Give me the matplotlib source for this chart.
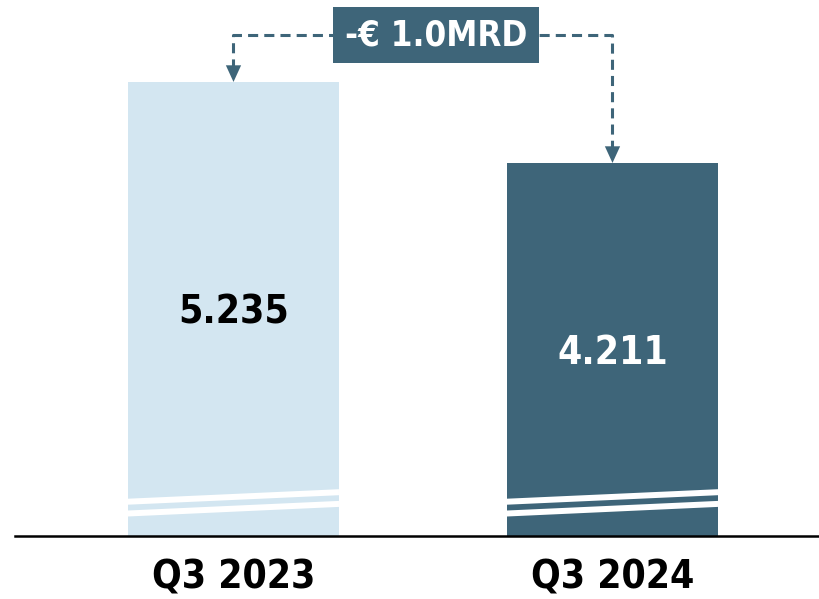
import numpy as np
import matplotlib.pyplot as plt

# data
categories = ["Q3 2023", "Q3 2024"]
values = [5.235, 4.211]
value_labels = ["5.235", "4.211"]
delta_label = "-€ 1.0MRD"

col_light = "#d3e6f1"
col_dark = "#3e6579"
bar_cols = [col_light, col_dark]
txt_cols = ["black", "white"]

plt.rcParams["font.family"] = ["DejaVu Sans"]
plt.rcParams["font.stretch"] = "condensed"

W, H = 820, 599
fig = plt.figure(figsize=(W / 100, H / 100), dpi=100)
ax = fig.add_axes([15 / W, 63 / H, 805 / W, 536 / H])

# broken axis: bars do not start at zero
base = -0.505
px = 79.1  # pixels per unit
ax.set_ylim(base, base + 536 / px)
ax.set_xlim(-0.5765, -0.5765 + 805 / 379)
x = np.arange(len(values))
bw = 211 / 379

ax.bar(x, np.array(values) - base, bottom=base, width=bw, color=bar_cols, zorder=2)

# white break stripes
th = 6.0 / px
for xi in x:
    xl, xr = xi - bw / 2, xi + bw / 2
    for yl, yr in [(34.3, 43.8), (22.5, 32.1)]:
        yl, yr = base + yl / px, base + yr / px
        ax.fill([xl, xr, xr, xl], [yl - th / 2, yr - th / 2, yr + th / 2, yl + th / 2],
                color="white", lw=0, zorder=3)

for xi, v, lab, tc in zip(x, values, value_labels, txt_cols):
    ax.text(xi, (v + base) / 2 - 0.04, lab, ha="center", va="center", color=tc,
            fontsize=28, fontweight="bold", zorder=4)

# connector with arrows
yc = base + 501 / px
ax.plot([x[0], x[0], x[1], x[1]], [values[0] + 0.17, yc, yc, values[1] + 0.17],
        ls=(0, (3.3, 2.0)), lw=2.2, color=col_dark, zorder=1, clip_on=False)
for xi, v in zip(x, values):
    ax.annotate("", xy=(xi, v), xytext=(xi, v + 0.25),
                arrowprops=dict(arrowstyle="-|>,head_length=1.2,head_width=0.55",
                                color=col_dark, lw=0, shrinkA=0, shrinkB=0))
ax.text(0.534, yc, delta_label, ha="center", va="center", color="white",
        fontsize=25, fontweight="bold", zorder=5,
        bbox=dict(boxstyle="square,pad=0.33", fc=col_dark, ec="none"))

for s in ["top", "right", "left"]:
    ax.spines[s].set_visible(False)
ax.spines["bottom"].set_linewidth(1.8)
ax.spines["bottom"].set_color("black")
ax.set_yticks([])
ax.set_xticks(x)
ax.set_xticklabels(categories, fontsize=28, fontweight="bold")
ax.tick_params(axis="x", length=0, pad=16)

fig.savefig("out.png", dpi=100)
